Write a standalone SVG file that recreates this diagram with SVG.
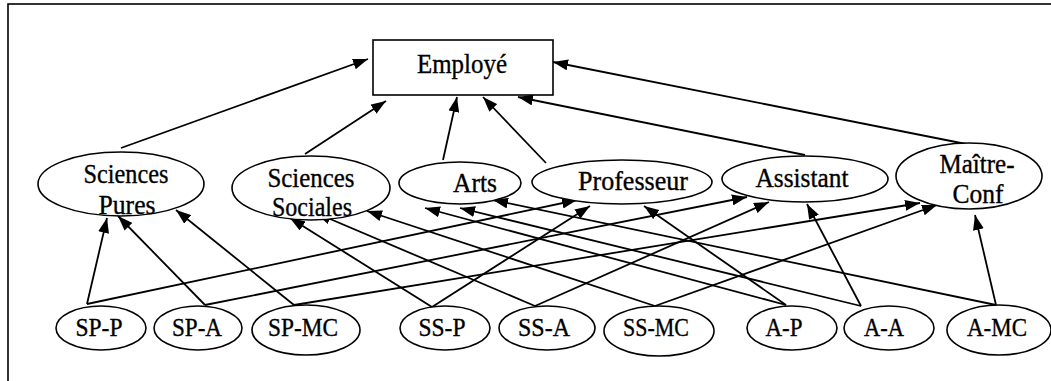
<svg xmlns="http://www.w3.org/2000/svg" width="1051" height="381" viewBox="0 0 1051 381">
  <style>
    .frame { fill: none; stroke: #000; stroke-width: 1.6; }
    .node { fill: #fff; stroke: #000; stroke-width: 1.6; }
    .lbl { font-family: "Liberation Serif", "Times New Roman", serif; font-size: 27px; fill: #000; stroke: #000; stroke-width: 0.35; text-anchor: middle; }
    .sm { font-size: 26px; }
    .edge { fill: none; stroke: #000; stroke-width: 1.8; marker-end: url(#arrow); }
  </style>
  <defs>
    <marker id="arrow" markerUnits="userSpaceOnUse" markerWidth="15" markerHeight="11" refX="15" refY="5.5" orient="auto">
      <path d="M0,0 L15,5.5 L0,11 z" fill="#000"/>
    </marker>
  </defs>

  <rect width="1051" height="381" fill="#fff"/>
  <!-- outer frame (runs off the right and bottom edges) -->
  <rect class="frame" x="8" y="4" width="1060" height="400"/>

  <!-- connectors -->
  <g id="connectors">
    <!-- categories to Employé -->
    <line class="edge" x1="121" y1="148" x2="368" y2="59"/>
    <line class="edge" x1="305" y1="154" x2="386" y2="101"/>
    <line class="edge" x1="443" y1="160" x2="457" y2="97"/>
    <line class="edge" x1="546" y1="163" x2="483" y2="97"/>
    <line class="edge" x1="805" y1="155" x2="518" y2="97"/>
    <line class="edge" x1="966" y1="144" x2="553" y2="62"/>
    <!-- SP-* -->
    <line class="edge" x1="87" y1="304" x2="107" y2="218"/>
    <line class="edge" x1="87" y1="304" x2="577" y2="200"/>
    <line class="edge" x1="205" y1="305" x2="118" y2="216"/>
    <line class="edge" x1="205" y1="305" x2="747" y2="197"/>
    <line class="edge" x1="294" y1="305" x2="176" y2="210"/>
    <line class="edge" x1="294" y1="305" x2="920" y2="203"/>
    <!-- SS-* -->
    <line class="edge" x1="432" y1="307" x2="290" y2="218"/>
    <line class="edge" x1="432" y1="307" x2="590" y2="206"/>
    <line class="edge" x1="535" y1="306" x2="316" y2="213"/>
    <line class="edge" x1="535" y1="306" x2="769" y2="202"/>
    <line class="edge" x1="655" y1="306" x2="367" y2="211"/>
    <line class="edge" x1="655" y1="306" x2="937" y2="205"/>
    <!-- A-* -->
    <line class="edge" x1="786" y1="305" x2="425" y2="208"/>
    <line class="edge" x1="786" y1="305" x2="644" y2="206"/>
    <line class="edge" x1="861" y1="306" x2="460" y2="208"/>
    <line class="edge" x1="861" y1="306" x2="807" y2="204"/>
    <line class="edge" x1="996" y1="305" x2="493" y2="200"/>
    <line class="edge" x1="996" y1="305" x2="975" y2="215"/>
  </g>

  <!-- root -->
  <g id="employe">
    <rect class="node" x="373" y="40" width="180" height="55"/>
    <text class="lbl" x="462" y="73" textLength="90" lengthAdjust="spacingAndGlyphs">Employé</text>
  </g>

  <!-- middle level -->
  <g id="sciences-pures">
    <ellipse class="node" cx="121" cy="184" rx="83" ry="32"/>
    <text class="lbl" x="126" y="183" textLength="85" lengthAdjust="spacingAndGlyphs">Sciences</text>
    <text class="lbl" x="127" y="214" textLength="57" lengthAdjust="spacingAndGlyphs">Pures</text>
  </g>
  <g id="sciences-sociales">
    <ellipse class="node" cx="311" cy="188" rx="79" ry="32"/>
    <text class="lbl" x="311" y="187" textLength="87" lengthAdjust="spacingAndGlyphs">Sciences</text>
    <text class="lbl" x="312" y="216" textLength="80" lengthAdjust="spacingAndGlyphs">Sociales</text>
  </g>
  <g id="arts">
    <ellipse class="node" cx="460" cy="183" rx="61" ry="21"/>
    <text class="lbl" x="475" y="192" textLength="44" lengthAdjust="spacingAndGlyphs">Arts</text>
  </g>
  <g id="professeur">
    <ellipse class="node" cx="622" cy="182" rx="90" ry="22"/>
    <text class="lbl" x="633" y="190" textLength="110" lengthAdjust="spacingAndGlyphs">Professeur</text>
  </g>
  <g id="assistant">
    <ellipse class="node" cx="805" cy="179" rx="83" ry="23"/>
    <text class="lbl" x="802" y="187" textLength="93" lengthAdjust="spacingAndGlyphs">Assistant</text>
  </g>
  <g id="maitre-conf">
    <ellipse class="node" cx="969" cy="176" rx="73" ry="33"/>
    <text class="lbl" x="977" y="173" textLength="75" lengthAdjust="spacingAndGlyphs">Maître-</text>
    <text class="lbl" x="978" y="203" textLength="51" lengthAdjust="spacingAndGlyphs">Conf</text>
  </g>

  <!-- bottom level -->
  <g id="sp-p">
    <ellipse class="node" cx="101" cy="328" rx="45" ry="22"/>
    <text class="lbl sm" x="99" y="336" textLength="47" lengthAdjust="spacingAndGlyphs">SP-P</text>
  </g>
  <g id="sp-a">
    <ellipse class="node" cx="198" cy="328" rx="44" ry="22"/>
    <text class="lbl sm" x="197" y="336" textLength="50" lengthAdjust="spacingAndGlyphs">SP-A</text>
  </g>
  <g id="sp-mc">
    <ellipse class="node" cx="306" cy="330" rx="54" ry="25"/>
    <text class="lbl sm" x="303" y="336" textLength="70" lengthAdjust="spacingAndGlyphs">SP-MC</text>
  </g>
  <g id="ss-p">
    <ellipse class="node" cx="445" cy="328" rx="45" ry="22"/>
    <text class="lbl sm" x="442" y="336" textLength="47" lengthAdjust="spacingAndGlyphs">SS-P</text>
  </g>
  <g id="ss-a">
    <ellipse class="node" cx="547" cy="328" rx="48" ry="22"/>
    <text class="lbl sm" x="544" y="336" textLength="52" lengthAdjust="spacingAndGlyphs">SS-A</text>
  </g>
  <g id="ss-mc">
    <ellipse class="node" cx="659" cy="331" rx="55" ry="25"/>
    <text class="lbl sm" x="656" y="336" textLength="66" lengthAdjust="spacingAndGlyphs">SS-MC</text>
  </g>
  <g id="a-p">
    <ellipse class="node" cx="792" cy="328" rx="45" ry="22"/>
    <text class="lbl sm" x="784" y="336" textLength="37" lengthAdjust="spacingAndGlyphs">A-P</text>
  </g>
  <g id="a-a">
    <ellipse class="node" cx="889" cy="328" rx="45" ry="22"/>
    <text class="lbl sm" x="884" y="336" textLength="40" lengthAdjust="spacingAndGlyphs">A-A</text>
  </g>
  <g id="a-mc">
    <ellipse class="node" cx="999" cy="330" rx="52" ry="25"/>
    <text class="lbl sm" x="997" y="336" textLength="60" lengthAdjust="spacingAndGlyphs">A-MC</text>
  </g>
</svg>
